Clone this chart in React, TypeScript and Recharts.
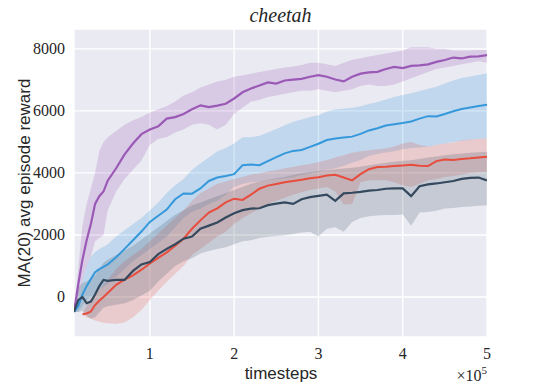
import React from 'react';
import { ComposedChart, Line, Area, XAxis, YAxis, CartesianGrid } from 'recharts';

// timesteps
const T = [
  10000, 15000, 20000, 25000, 30000, 35000, 40000, 45000, 50000,
  60000, 70000, 80000, 90000, 100000, 110000, 120000, 130000, 140000, 150000,
  160000, 170000, 180000, 190000, 200000, 210000, 220000, 230000, 240000, 250000,
  260000, 270000, 280000, 290000, 300000, 310000, 320000, 330000, 340000, 350000,
  360000, 370000, 380000, 390000, 400000, 410000, 420000, 430000, 440000, 450000,
  460000, 470000, 480000, 490000, 500000,
];

const purpleMean = [
  -480, 400, 1200, 1830, 2350, 3000, 3250, 3400, 3750,
  4150, 4600, 4950, 5250, 5400, 5500, 5750, 5800, 5900, 6050,
  6180, 6120, 6170, 6230, 6400, 6600, 6720, 6820, 6920, 6880,
  6980, 7010, 7030, 7100, 7150, 7100, 7010, 6950, 7100, 7200,
  7240, 7260, 7350, 7420, 7380, 7450, 7470, 7500, 7580, 7640,
  7720, 7690, 7750, 7760, 7800,
];
const purpleLo = [
  -480, 0, 500, 1000, 1300, 1800, 1900, 2000, 2800,
  3400, 3800, 4100, 4400, 4900, 5100, 5150, 5300, 5400, 5550,
  5600, 5550, 5400, 5550, 5900, 6100, 6300, 6350, 6450, 6500,
  6550, 6600, 6650, 6650, 6700, 6650, 6600, 6650, 6700, 6800,
  6850, 6800, 6800, 6850, 6950, 7050, 7150, 7250, 7350, 7400,
  7450, 7500, 7550, 7600, 7550,
];
const purpleHi = [
  -480, 900, 2300, 3000, 3500, 4000, 4700, 5000, 5150,
  5350, 5550, 5700, 5800, 5950, 6050, 6150, 6300, 6500, 6600,
  6750, 6850, 6950, 7000, 7100, 7150, 7200, 7250, 7300, 7350,
  7400, 7430, 7480, 7550, 7550, 7500, 7450, 7550, 7650, 7700,
  7750, 7800, 7850, 7900, 7950, 8050, 8050, 8050, 8000, 8000,
  7950, 7950, 7950, 7960, 7960,
];

const blueMean = [
  -480, -300, 80, 350, 580, 800, 900, 970, 1050,
  1280, 1550, 1830, 2110, 2420, 2620, 2820, 3150, 3340, 3330,
  3500, 3740, 3850, 3900, 3960, 4250, 4270, 4250, 4380, 4510,
  4630, 4710, 4740, 4840, 4940, 5060, 5110, 5140, 5170, 5260,
  5370, 5440, 5530, 5570, 5610, 5660, 5750, 5830, 5820, 5900,
  5990, 6060, 6110, 6160, 6200,
];
const blueLo = [
  -480, -480, -300, -100, 0, 120, 250, 330, 420,
  650, 900, 1150, 1350, 1550, 1750, 1950, 2250, 2550, 2750,
  2850, 3000, 3100, 3300, 3550, 3650, 3700, 3720, 3760, 3800,
  3830, 3870, 3940, 3980, 4030, 4100, 4150, 4230, 4330, 4420,
  4550, 4610, 4660, 4700, 4760, 4800, 4820, 4840, 4900, 4950,
  5000, 5040, 5070, 5100, 5110,
];
const blueHi = [
  -480, -100, 500, 1000, 1300, 1450, 1550, 1620, 1700,
  1950, 2150, 2350, 2550, 2800, 3050, 3350, 3600, 3800, 4100,
  4300, 4500, 4700, 4800, 4950, 5150, 5150, 5200, 5300, 5420,
  5540, 5650, 5720, 5800, 5860, 5980, 6050, 6070, 6100, 6150,
  6220, 6290, 6370, 6450, 6510, 6570, 6640, 6710, 6780, 6880,
  6980, 7060, 7110, 7160, 7210,
];

const redMean = [
  null, null, -560, -530, -470, -260, -120, 0, 130,
  390, 560, 700, 880, 1080, 1260, 1440, 1650, 1880, 2200,
  2470, 2720, 2860, 3050, 3170, 3130, 3300, 3490, 3590, 3640,
  3700, 3740, 3780, 3830, 3860, 3920, 3940, 3850, 3760, 3960,
  4120, 4190, 4200, 4220, 4240, 4260, 4230, 4220, 4380, 4430,
  4420, 4450, 4470, 4500, 4520,
];
const redLo = [
  null, null, -560, -650, -700, -760, -800, -830, -850,
  -860, -820, -650, -420, -100, 200, 480, 750, 1000, 1350,
  1550, 1750, 1950, 2100, 2350, 2550, 2700, 2850, 3000, 3100,
  3200, 3300, 3380, 3450, 3500, 3550, 3400, 2980, 3000, 3700,
  3760, 3760, 3760, 3700, 3600, 3550, 3650, 3760, 3800, 3870,
  3900, 3950, 4000, 4020, 4030,
];
const redHi = [
  null, null, -560, -300, -100, 100, 250, 400, 550,
  900, 1150, 1350, 1550, 1800, 2050, 2300, 2550, 2800, 3100,
  3350, 3500, 3650, 3720, 3800, 3870, 3950, 3990, 4050, 4090,
  4150, 4190, 4250, 4290, 4350, 4420, 4500, 4570, 4650, 4700,
  4730, 4760, 4790, 4850, 4950, 5000, 4900, 4850, 4900, 4950,
  4980, 5050, 5080, 5100, 5110,
];

const darkMean = [
  -480, -100, 0, -200, -150, 80, 350, 550, 520,
  550, 550, 840, 1050, 1130, 1380, 1550, 1700, 1880, 1950,
  2200, 2300, 2400, 2560, 2700, 2800, 2850, 2860, 2960, 3010,
  3050, 3000, 3150, 3220, 3260, 3300, 3100, 3340, 3360, 3390,
  3430, 3450, 3490, 3500, 3500, 3250, 3570, 3630, 3660, 3700,
  3740, 3810, 3840, 3850, 3760,
];
const darkLo = [
  -480, -480, -450, -600, -700, -650, -500, -350, -300,
  -250, -200, -100, 50, 200, 500, 750, 1000, 1150, 1250,
  1400, 1480, 1550, 1600, 1700, 1800, 1830, 1900, 1940, 1970,
  1990, 2030, 2080, 2100, 1950, 2200, 2250, 2100, 2420, 2550,
  2600, 2630, 2640, 2640, 2660, 2300, 2720, 2740, 2780, 2850,
  2870, 2900, 2920, 2940, 2960,
];
const darkHi = [
  -480, 300, 450, 500, 600, 700, 900, 1100, 1200,
  1350, 1500, 1650, 1850, 2050, 2250, 2450, 2650, 2800, 2950,
  3050, 3150, 3250, 3350, 3450, 3550, 3650, 3720, 3780, 3830,
  3870, 3930, 3990, 4030, 4060, 4090, 4120, 4140, 4170, 4200,
  4250, 4290, 4330, 4360, 4390, 4410, 4450, 4500, 4530, 4570,
  4600, 4630, 4650, 4670, 4680,
];

const xTicks = [100000, 200000, 300000, 400000, 500000];
const yTicks = [0, 2000, 4000, 6000, 8000];

const PURPLE = '#9b59b6';
const BLUE = '#3498db';
const RED = '#e74c3c';
const DARK = '#34495e';

const band = (lo: (number | null)[], hi: (number | null)[], i: number) =>
  lo[i] == null || hi[i] == null ? null : [lo[i], hi[i]];

const data = T.map((t, i) => ({
  t,
  purple: purpleMean[i],
  purpleBand: band(purpleLo, purpleHi, i),
  blue: blueMean[i],
  blueBand: band(blueLo, blueHi, i),
  red: redMean[i],
  redBand: band(redLo, redHi, i),
  dark: darkMean[i],
  darkBand: band(darkLo, darkHi, i),
}));

const serif = 'Liberation Serif, Times New Roman, serif';
const sans = 'Liberation Sans, Arial, sans-serif';
const ink = '#262626';

const XTick = (props: any) => {
  const { x, y, payload } = props;
  return (
    <text x={x} y={y + 13} textAnchor="middle" fill={ink} fontFamily={serif} fontSize={16}>
      {String(payload.value / 100000)}
    </text>
  );
};

const YTick = (props: any) => {
  const { x, y, payload } = props;
  return (
    <text x={x} y={y + 5.5} textAnchor="end" fill={ink} fontFamily={serif} fontSize={16}>
      {String(payload.value)}
    </text>
  );
};

export default function App() {
  return (
    <div style={{ position: 'absolute', left: 0, top: 0, width: 539, height: 391, background: '#fff' }}>
      <div
        style={{
          position: 'absolute', left: 74, width: 413, top: 4, textAlign: 'center',
          fontFamily: serif, fontStyle: 'italic', fontSize: 20, color: ink,
        }}
      >
        cheetah
      </div>
      <ComposedChart
        width={539}
        height={391}
        data={data}
        margin={{ top: 29, right: 52, bottom: 0, left: 0 }}
        style={{ fontFamily: serif }}
      >
        <CartesianGrid stroke="#ffffff" strokeWidth={1.4} fill="#EAEAF2" />
        <XAxis
          dataKey="t"
          type="number"
          domain={[10000, 500000]}
          ticks={xTicks}
          allowDataOverflow
          axisLine={false}
          tickLine={false}
          tickSize={6}
          tickMargin={3}
          height={54}
          tick={XTick}
          label={{
            content: () => (
              <g>
                <text x={281} y={379} textAnchor="middle" fill={ink} fontFamily={sans} fontSize={17}>
                  timesteps
                </text>
                <text x={487} y={381} textAnchor="end" fill={ink} fontFamily={serif} fontSize={16}>
                  ×10<tspan dy={-7} fontSize={11}>5</tspan>
                </text>
              </g>
            ),
          }}
        />
        <YAxis
          type="number"
          domain={[-1290, 8640]}
          ticks={yTicks}
          allowDataOverflow
          axisLine={false}
          tickLine={false}
          tickSize={6}
          tickMargin={3}
          width={74}
          tick={YTick}
          label={{
            content: () => (
              <text
                x={24}
                y={183}
                transform="rotate(-90 24 183)"
                textAnchor="middle"
                dominantBaseline="central"
                fill={ink}
                fontFamily={sans}
                fontSize={17}
              >
                MA(20) avg episode reward
              </text>
            ),
          }}
        />
        <Area dataKey="purpleBand" type="linear" stroke="none" fill={PURPLE} fillOpacity={0.22} isAnimationActive={false} />
        <Area dataKey="blueBand" type="linear" stroke="none" fill={BLUE} fillOpacity={0.22} isAnimationActive={false} />
        <Area dataKey="redBand" type="linear" stroke="none" fill={RED} fillOpacity={0.2} isAnimationActive={false} />
        <Area dataKey="darkBand" type="linear" stroke="none" fill={DARK} fillOpacity={0.2} isAnimationActive={false} />
        <Line dataKey="purple" type="linear" stroke={PURPLE} strokeWidth={2.2} dot={false} isAnimationActive={false} />
        <Line dataKey="blue" type="linear" stroke={BLUE} strokeWidth={2} dot={false} isAnimationActive={false} />
        <Line dataKey="red" type="linear" stroke={RED} strokeWidth={2} dot={false} isAnimationActive={false} />
        <Line dataKey="dark" type="linear" stroke={DARK} strokeWidth={2.2} dot={false} isAnimationActive={false} />
      </ComposedChart>
    </div>
  );
}
